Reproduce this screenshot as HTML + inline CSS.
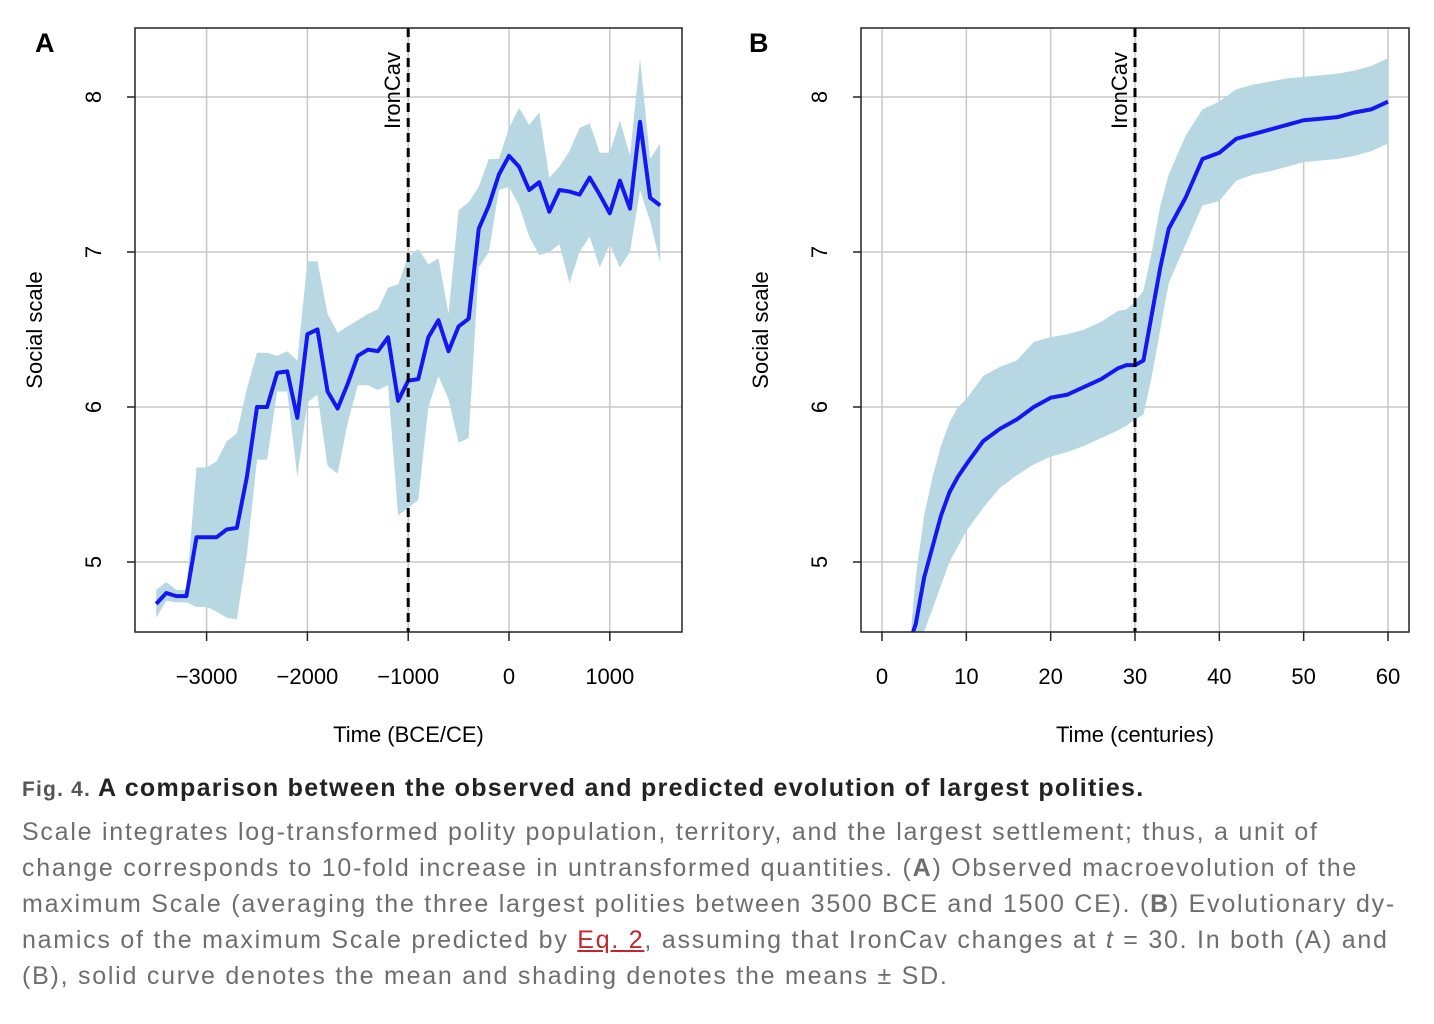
<!DOCTYPE html>
<html><head><meta charset="utf-8">
<style>
html,body{margin:0;padding:0;background:#fff;}
body{width:1434px;height:1024px;overflow:hidden;position:relative;font-family:"Liberation Sans",sans-serif;}
svg text{font-family:"Liberation Sans",sans-serif;}
.cap{position:absolute;left:22px;top:770px;width:1410px;color:#6e6e6e;font-size:25px;line-height:36px;white-space:nowrap;}
.cap .ln{letter-spacing:1.75px;}
.cap b.t{color:#222;font-size:25px;letter-spacing:1.3px;}
.cap .f{color:#555;font-size:21px;font-weight:bold;letter-spacing:1.2px;}
.cap a{color:#c0282d;text-decoration:underline;}
</style></head><body>
<svg id="chart" width="1434" height="760" style="position:absolute;left:0;top:0"></svg>
<div class="cap">
<div><span class="f">Fig. 4.</span> <b class="t">A comparison between the observed and predicted evolution of largest polities.</b></div>
<div style="margin-top:6px">
<div class="ln">Scale integrates log-transformed polity population, territory, and the largest settlement; thus, a unit of</div>
<div class="ln">change corresponds to 10-fold increase in untransformed quantities. (<b>A</b>) Observed macroevolution of the</div>
<div class="ln">maximum Scale (averaging the three largest polities between 3500 BCE and 1500 CE). (<b>B</b>) Evolutionary dy-</div>
<div class="ln">namics of the maximum Scale predicted by <a>Eq. 2</a>, assuming that IronCav changes at <i>t</i> = 30. In both (A) and</div>
<div class="ln">(B), solid curve denotes the mean and shading denotes the means ± SD.</div>
</div>
</div>
<script>
const yearsA=[-3500,-3400,-3300,-3200,-3100,-3000,-2900,-2800,-2700,-2600,-2500,-2400,-2300,-2200,-2100,-2000,-1900,-1800,-1700,-1600,-1500,-1400,-1300,-1200,-1100,-1000,-900,-800,-700,-600,-500,-400,-300,-200,-100,0,100,200,300,400,500,600,700,800,900,1000,1100,1200,1300,1400,1500];
const meanA=[4.73,4.80,4.78,4.78,5.16,5.16,5.16,5.21,5.22,5.55,6.00,6.00,6.22,6.23,5.93,6.47,6.50,6.10,5.99,6.15,6.33,6.37,6.36,6.45,6.04,6.17,6.18,6.45,6.56,6.36,6.52,6.57,7.15,7.30,7.50,7.62,7.55,7.40,7.45,7.26,7.40,7.39,7.37,7.48,7.37,7.25,7.46,7.28,7.84,7.35,7.30];
const upperA=[4.82,4.87,4.82,4.82,5.61,5.61,5.65,5.78,5.83,6.12,6.35,6.35,6.33,6.36,6.30,6.94,6.94,6.60,6.48,6.52,6.56,6.60,6.63,6.77,6.79,6.97,7.02,6.92,6.96,6.60,7.27,7.32,7.42,7.60,7.60,7.80,7.93,7.82,7.90,7.48,7.55,7.65,7.80,7.83,7.64,7.64,7.85,7.62,8.25,7.60,7.70];
const lowerA=[4.64,4.75,4.74,4.74,4.71,4.71,4.68,4.64,4.63,5.05,5.66,5.66,6.10,6.10,5.55,6.03,6.08,5.62,5.57,5.90,6.14,6.14,6.11,6.14,5.30,5.35,5.40,6.00,6.20,6.05,5.77,5.80,6.90,7.00,7.40,7.42,7.30,7.10,6.98,7.00,7.05,6.80,7.00,7.10,6.90,7.05,6.90,7.00,7.40,7.20,6.93];
const tB=[3.5,4,5,6,7,8,9,10,12,14,16,18,20,22,24,26,28,29,30,31,32,33,34,36,38,40,42,44,46,48,50,52,54,56,58,60];
const meanB=[4.52,4.6,4.9,5.1,5.3,5.45,5.55,5.63,5.78,5.86,5.92,6.0,6.06,6.08,6.13,6.18,6.25,6.27,6.27,6.3,6.6,6.9,7.15,7.35,7.6,7.64,7.73,7.76,7.79,7.82,7.85,7.86,7.87,7.9,7.92,7.97];
const upperB=[4.6,4.9,5.3,5.55,5.75,5.9,6.0,6.05,6.2,6.26,6.3,6.42,6.45,6.47,6.5,6.55,6.62,6.63,6.68,6.75,7.0,7.3,7.5,7.75,7.92,7.97,8.05,8.08,8.1,8.12,8.13,8.14,8.15,8.17,8.2,8.25];
const lowerB=[4.4,4.5,4.55,4.7,4.85,5.0,5.1,5.2,5.35,5.48,5.56,5.63,5.68,5.71,5.75,5.80,5.85,5.88,5.92,5.95,6.2,6.5,6.8,7.05,7.3,7.33,7.46,7.5,7.52,7.55,7.58,7.59,7.6,7.62,7.65,7.7];
const xTicksA=[-3000,-2000,-1000,0,1000];
const xTicksB=[0,10,20,30,40,50,60];
const yTicks=[5,6,7,8];

const NS='http://www.w3.org/2000/svg';
const svg=document.getElementById('chart');
function mk(tag,attrs,parent){const e=document.createElementNS(NS,tag);for(const k in attrs)e.setAttribute(k,attrs[k]);(parent||svg).appendChild(e);return e;}
const yS=v=>407-(v-6)*155;

function panel(cfg){
  const g=mk('g',{});
  
  
  const L=cfg.left,R=cfg.right,T=28,B=632;
  const xS=cfg.xS;
  const cid='clip'+cfg.letter;
  const cp=mk('clipPath',{id:cid},g);mk('rect',{x:L,y:T,width:R-L,height:B-T},cp);
  cfg.xTicks.forEach(t=>{const l=mk('line',{x1:xS(t),x2:xS(t),y1:T,y2:B,stroke:'#c8c8c8','stroke-width':1.5},g);});
  yTicks.forEach(t=>{const l=mk('line',{x1:L,x2:R,y1:yS(t),y2:yS(t),stroke:'#c8c8c8','stroke-width':1.5},g);});
  const inner=mk('g',{'clip-path':'url(#'+cid+')'},g);
  let d='';cfg.x.forEach((x,i)=>{d+=(i?'L':'M')+xS(x)+','+yS(cfg.up[i]);});
  for(let i=cfg.x.length-1;i>=0;i--)d+='L'+xS(cfg.x[i])+','+yS(cfg.lo[i]);
  const band=mk('path',{d:d+'Z',fill:'#b7d7e2',stroke:'none'},inner);
  
  
  let m='';cfg.x.forEach((x,i)=>{m+=(i?'L':'M')+xS(x)+','+yS(cfg.mean[i]);});
  const line=mk('path',{d:m,fill:'none',stroke:'#1418f0','stroke-width':4,'stroke-linejoin':'round'},inner);
  
  
  const vx=xS(cfg.iron);
  const vl=mk('line',{x1:vx,x2:vx,y1:T,y2:B,stroke:'#000','stroke-width':3,'stroke-dasharray':'9,6'},g);
  
  
  const it=mk('text',{x:0,y:0,transform:`translate(${vx-8},${T+24}) rotate(-90)`,'text-anchor':'end','font-size':22},g);
  it.textContent='IronCav';
  
  
  const box=mk('rect',{x:L,y:T,width:R-L,height:B-T,fill:'none',stroke:'#222','stroke-width':1.5},g);
  
  
  yTicks.forEach(t=>{
    mk('line',{x1:L-8,x2:L,y1:yS(t),y2:yS(t),stroke:'#222','stroke-width':1.5},g);
    const tx=mk('text',{transform:`translate(${L-34},${yS(t)}) rotate(-90)`,'text-anchor':'middle','font-size':22},g);
    tx.textContent=t;
    
    
  });
  cfg.xTicks.forEach(t=>{
    mk('line',{x1:xS(t),x2:xS(t),y1:B,y2:B+9,stroke:'#222','stroke-width':1.5},g);
    const tx=mk('text',{x:xS(t),y:B+52,'text-anchor':'middle','font-size':22},g);
    tx.textContent=(t<0?'\u2212'+(-t):t);
    
    
  });
  const xt=mk('text',{x:(L+R)/2,y:742,'text-anchor':'middle','font-size':22},g);
  xt.textContent=cfg.xTitle;
  
  
  const yt=mk('text',{transform:`translate(${L-93},330) rotate(-90)`,'text-anchor':'middle','font-size':22},g);
  yt.textContent='Social scale';
  
  
  const pl=mk('text',{x:cfg.letterX,y:52,'font-size':27,'font-weight':'bold'},g);
  pl.textContent=cfg.letter;
  
  
}
panel({name:'panel-a',letter:'A',letterX:35,left:135,right:682,xS:v=>509+v*0.1008,xTicks:xTicksA,x:yearsA,mean:meanA,up:upperA,lo:lowerA,iron:-1000,xTitle:'Time (BCE/CE)'});
panel({name:'panel-b',letter:'B',letterX:749,left:861,right:1409,xS:v=>882+v*8.433,xTicks:xTicksB,x:tB,mean:meanB,up:upperB,lo:lowerB,iron:30,xTitle:'Time (centuries)'});
</script>
</body></html>
